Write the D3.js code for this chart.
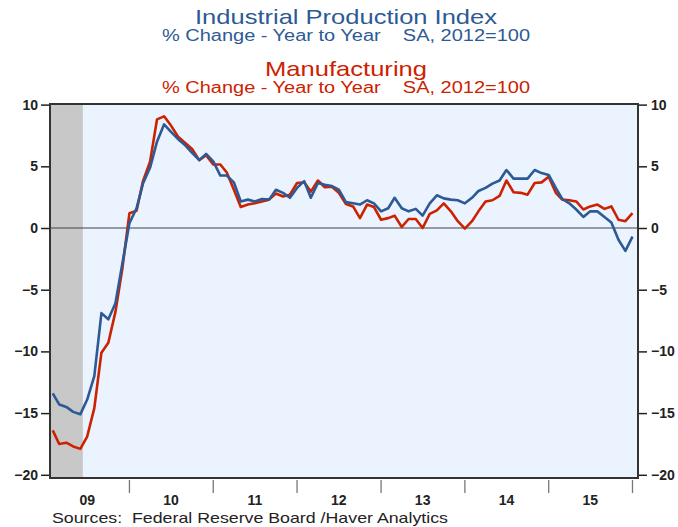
<!DOCTYPE html>
<html>
<head>
<meta charset="utf-8">
<script src="https://cdn.jsdelivr.net/npm/d3@7"></script>
<style>
  body { margin: 0; background: #fff; }
  svg { font-family: "Liberation Sans", Arial, sans-serif; }
</style>
</head>
<body>
<div id="chart"></div>
<script>
// Monthly y/y % change, Feb 2009 .. Jan 2016
var startMonth = [2009, 1]; // Feb 2009 (month index 1)

var industrialProduction = [
  -13.4, -14.3, -14.5, -14.9, -15.1, -13.9, -12.0, -6.9, -7.4, -6.1, -2.9,
  0.4, 1.6, 3.6, 4.9, 7.0, 8.4, 7.8, 7.2, 6.7, 6.1, 5.5, 6.0,
  5.4, 4.25, 4.25, 3.7, 2.15, 2.3, 2.15, 2.35, 2.3, 3.1, 2.85, 2.45,
  3.25, 3.8, 2.45, 3.65, 3.5, 3.4, 3.1, 2.1, 2.0, 1.9, 2.25, 2.0,
  1.35, 1.6, 2.45, 1.6, 1.35, 1.55, 1.0, 2.0, 2.65, 2.4, 2.3, 2.25,
  2.0, 2.45, 3.0, 3.25, 3.6, 3.85, 4.7, 4.0, 4.0, 4.0, 4.7, 4.45,
  4.3, 3.25, 2.35, 2.0, 1.5, 0.9, 1.35, 1.35, 0.9, 0.45, -0.95, -1.85,
  -0.7
];

var manufacturing = [
  -16.4, -17.5, -17.4, -17.7, -17.9, -16.9, -14.6, -10.1, -9.3, -6.8, -3.3,
  1.2, 1.4, 3.8, 5.4, 8.8, 9.05, 8.3, 7.4, 6.9, 6.4, 5.5, 5.9,
  5.15, 5.15, 4.5, 3.1, 1.7, 1.9, 2.0, 2.15, 2.3, 2.8, 2.55, 2.7,
  3.65, 3.7, 2.95, 3.85, 3.3, 3.35, 2.85, 1.95, 1.75, 0.8, 1.9, 1.7,
  0.67, 0.8, 1.0, 0.08, 0.73, 0.73, 0.0, 1.15, 1.43, 2.0, 1.35, 0.55,
  -0.05, 0.55, 1.35, 2.15, 2.25, 2.6, 3.85, 2.9, 2.85, 2.7, 3.65, 3.7,
  4.15, 2.85, 2.3, 2.25, 2.15, 1.5, 1.75, 1.9, 1.55, 1.75, 0.67, 0.55,
  1.2
];

var yearLabels = ["09", "10", "11", "12", "13", "14", "15"];
var yTicks = [10, 5, 0, -5, -10, -15, -20];
var recession = [new Date(2009, 0, 1), new Date(2009, 5, 12)];

var width = 678, height = 527;
var plot = {left: 50, right: 638, top: 104, bottom: 478};

var blue = "#2d5a94", red = "#cc2200";

var svg = d3.select("#chart").append("svg")
  .attr("width", width)
  .attr("height", height);

var x = d3.scaleTime()
  .domain([new Date(2009, 0, 20), new Date(2016, 0, 25)])
  .range([plot.left, plot.right]);

var y = d3.scaleLinear()
  .domain([-20.26, 10.05])
  .range([plot.bottom, plot.top]);

var dates = industrialProduction.map(function(d, i) {
  return new Date(startMonth[0], startMonth[1] + i, 1);
});

// plot background
svg.append("rect")
  .attr("x", plot.left).attr("y", plot.top)
  .attr("width", plot.right - plot.left).attr("height", plot.bottom - plot.top)
  .attr("fill", "#eaf3fe");

// recession shading
svg.append("rect")
  .attr("x", plot.left)
  .attr("y", plot.top)
  .attr("width", x(recession[1]) - Math.max(plot.left, x(recession[0])))
  .attr("height", plot.bottom - plot.top)
  .attr("fill", "#c8c8c8");

// zero line
svg.append("line")
  .attr("x1", plot.left).attr("x2", plot.right)
  .attr("y1", y(0)).attr("y2", y(0))
  .attr("stroke", "#444").attr("stroke-width", 1.2);

svg.append("clipPath").attr("id", "clip")
  .append("rect")
  .attr("x", plot.left).attr("y", plot.top)
  .attr("width", plot.right - plot.left).attr("height", plot.bottom - plot.top);

var line = d3.line()
  .x(function(d, i) { return x(dates[i]); })
  .y(function(d) { return y(d); });

var series = [
  {values: manufacturing, color: red},
  {values: industrialProduction, color: blue}
];

svg.append("g").attr("clip-path", "url(#clip)")
  .selectAll("path")
  .data(series)
  .enter()
  .append("path")
  .attr("d", function(d) { return line(d.values); })
  .attr("fill", "none")
  .attr("stroke", function(d) { return d.color; })
  .attr("stroke-width", 2.6)
  .attr("stroke-linejoin", "round");

// y axes on both sides
var yAxisL = d3.axisLeft(y).tickValues(yTicks).tickSize(9).tickPadding(3);
var yAxisR = d3.axisRight(y).tickValues(yTicks).tickSize(9).tickPadding(4);

function styleAxis(g) {
  g.select(".domain").remove();
  g.selectAll(".tick line").attr("stroke", "#222").attr("stroke-width", 1.5);
  g.selectAll(".tick text")
    .attr("fill", "#222")
    .style("font-size", "14px")
    .style("font-weight", "bold")
    .style("font-family", "Liberation Sans, Arial, sans-serif");
}

svg.append("g")
  .attr("transform", "translate(" + plot.left + ",0)")
  .call(yAxisL)
  .call(styleAxis);

svg.append("g")
  .attr("transform", "translate(" + plot.right + ",0)")
  .call(yAxisR)
  .call(styleAxis);

// x axis: year boundary ticks, labels mid-year
var yearStarts = d3.range(2010, 2017).map(function(yr) { return new Date(yr, 0, 1); });
svg.append("g").selectAll("line")
  .data(yearStarts)
  .enter()
  .append("line")
  .attr("x1", function(d) { return x(d); })
  .attr("x2", function(d) { return x(d); })
  .attr("y1", plot.bottom + 2)
  .attr("y2", plot.bottom + 15)
  .attr("stroke", "#777")
  .attr("stroke-width", 1.3);

svg.append("g").selectAll("text")
  .data(yearLabels)
  .enter()
  .append("text")
  .attr("x", function(d, i) { return x(new Date(2009 + i, 6, 1)); })
  .attr("y", 505)
  .attr("text-anchor", "middle")
  .attr("fill", "#222")
  .style("font-size", "14px")
  .style("font-weight", "bold")
  .text(function(d) { return d; });

// frame
svg.append("rect")
  .attr("x", plot.left).attr("y", plot.top)
  .attr("width", plot.right - plot.left).attr("height", plot.bottom - plot.top)
  .attr("fill", "none")
  .attr("stroke", "#333")
  .attr("stroke-width", 2);

// titles
var cx = 346;
function title(txt, yPos, size, color, len) {
  svg.append("text")
    .attr("x", cx).attr("y", yPos)
    .attr("text-anchor", "middle")
    .attr("fill", color)
    .attr("textLength", len)
    .attr("lengthAdjust", "spacingAndGlyphs")
    .style("font-size", size + "px")
    .style("white-space", "pre")
    .text(txt);
}
title("Industrial Production Index", 24, 21, blue, 302);
title("% Change - Year to Year    SA, 2012=100", 41, 16, blue, 368);
title("Manufacturing", 76, 21, red, 162);
title("% Change - Year to Year    SA, 2012=100", 93, 16, red, 368);

svg.append("text")
  .attr("x", 52).attr("y", 523)
  .attr("fill", "#222")
  .attr("textLength", 396)
  .attr("lengthAdjust", "spacingAndGlyphs")
  .style("font-size", "15px")
  .style("white-space", "pre")
  .text("Sources:  Federal Reserve Board /Haver Analytics");
</script>
</body>
</html>
